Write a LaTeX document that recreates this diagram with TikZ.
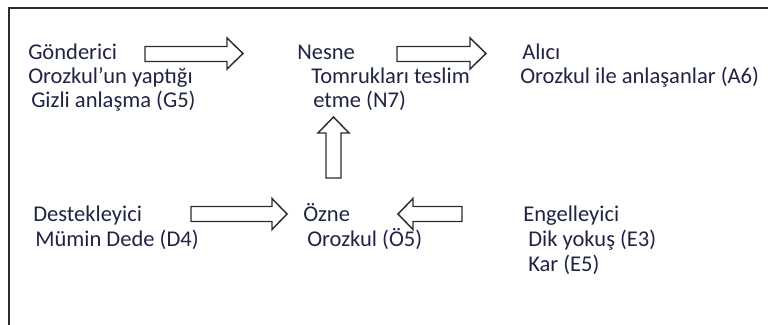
\documentclass[tikz,border=0pt]{standalone}
\usepackage{fontspec}
\setmainfont{Carlito}
\definecolor{txt}{RGB}{32,36,68}
\definecolor{lin}{RGB}{45,45,45}
\begin{document}
\begin{tikzpicture}[x=0.75pt,y=-0.75pt,
  lbl/.style={anchor=base west,inner sep=0pt,text=txt,font=\fontsize{16.9}{20}\selectfont},
  blockarrow/.style={draw=lin,line width=1.1pt,fill=white,line join=miter},
  frame/.style={draw=lin,line width=1.6pt}]
\useasboundingbox (0,0) rectangle (768,325);
\draw[frame] (770,8) -- (9,8) -- (9,327);
% Gonderici
\node[lbl] (g1) at (28,59) {Gönderici};
\node[lbl] (g2) at (28,83) {Orozkul’un yaptığı};
\node[lbl] (g3) at (31,107) {Gizli anlaşma (G5)};
% Nesne
\node[lbl] (n1) at (297,59) {Nesne};
\node[lbl] (n2) at (311,83) {Tomrukları teslim};
\node[lbl] (n3) at (313,107) {etme (N7)};
% Alici
\node[lbl] (a1) at (522,59) {Alıcı};
\node[lbl] (a2) at (520,83) {Orozkul ile anlaşanlar (A6)};
% Destekleyici
\node[lbl] (d1) at (33,221) {Destekleyici};
\node[lbl] (d2) at (35,246) {Mümin Dede (D4)};
% Ozne
\node[lbl] (o1) at (303,221) {Özne};
\node[lbl] (o2) at (307,246) {Orozkul (Ö5)};
% Engelleyici
\node[lbl] (e1) at (523,221) {Engelleyici};
\node[lbl] (e2) at (528,246) {Dik yokuş (E3)};
\node[lbl] (e3) at (528,271) {Kar (E5)};
% block arrows
\draw[blockarrow] (145,46.5) -- (227,46.5) -- (227,38) -- (243,53.5) -- (227,69) -- (227,61.5) -- (145,61.5) -- cycle;
\draw[blockarrow] (397,46.5) -- (470,46.5) -- (470,38) -- (486,53.5) -- (470,69) -- (470,61.5) -- (397,61.5) -- cycle;
\draw[blockarrow] (191,206.5) -- (272,206.5) -- (272,198.5) -- (287,214) -- (272,229.5) -- (272,221.5) -- (191,221.5) -- cycle;
\draw[blockarrow] (462,206.5) -- (413,206.5) -- (413,198.5) -- (398,214) -- (413,229.5) -- (413,221.5) -- (462,221.5) -- cycle;
\draw[blockarrow] (326,178) -- (326,133) -- (318,133) -- (333.5,117) -- (349,133) -- (341,133) -- (341,178) -- cycle;
\end{tikzpicture}
\end{document}
